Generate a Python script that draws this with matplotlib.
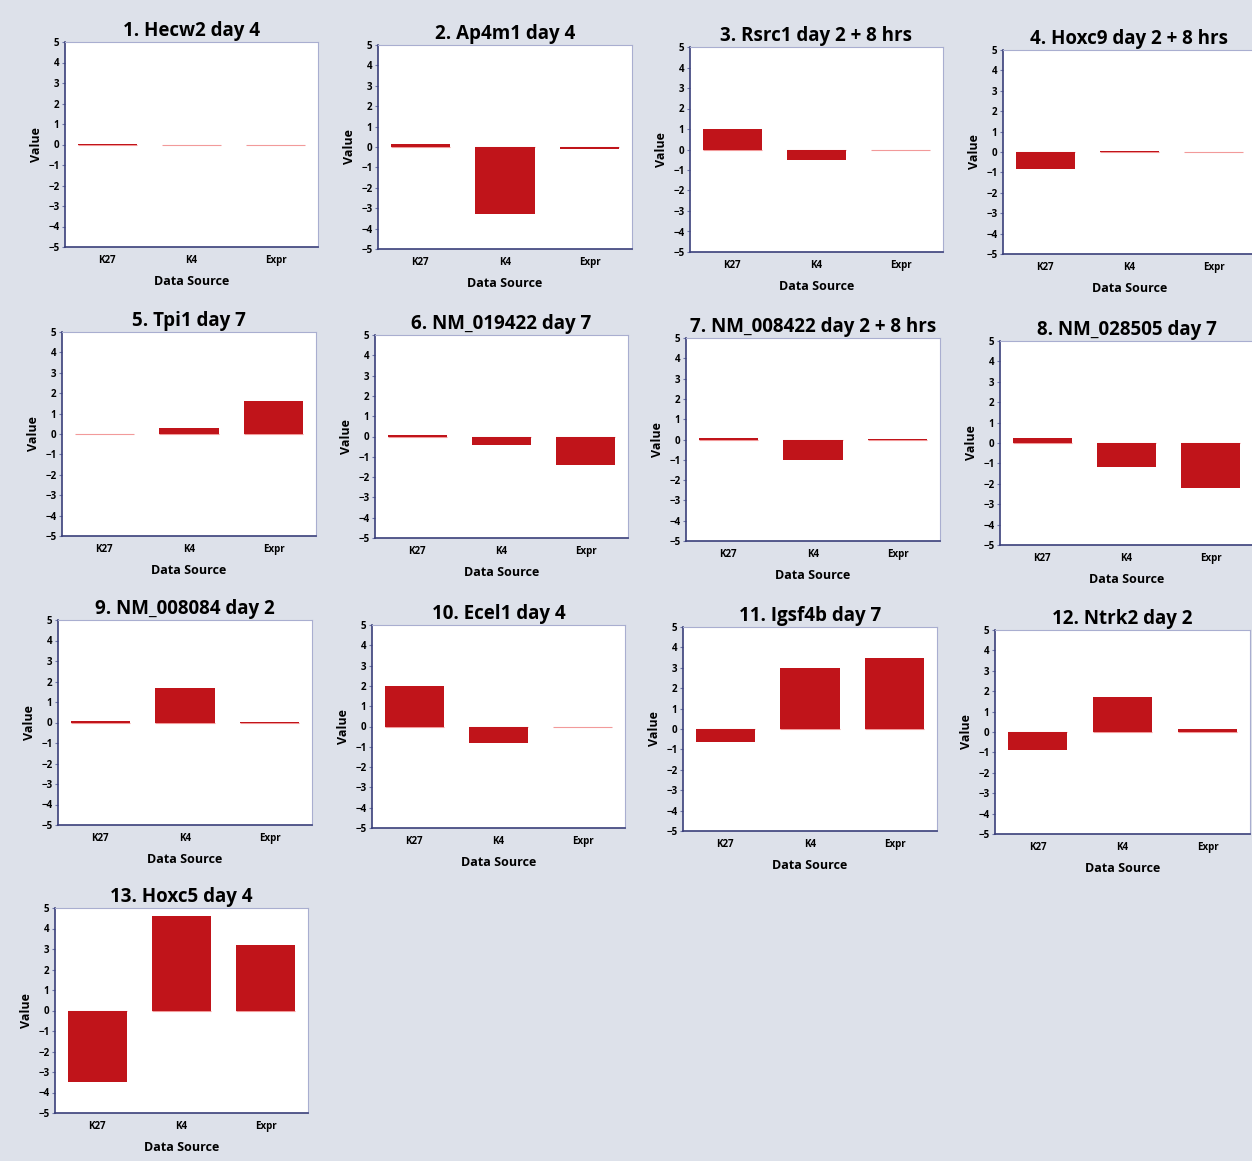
import matplotlib.pyplot as plt
import numpy as np

plt.rcParams['font.family'] = ['Open Sans', 'DejaVu Sans']

sources = ['K27', 'K4', 'Expr']
titles = ['1. Hecw2 day 4', '2. Ap4m1 day 4', '3. Rsrc1 day 2 + 8 hrs',
          '4. Hoxc9 day 2 + 8 hrs', '5. Tpi1 day 7', '6. NM_019422 day 7',
          '7. NM_008422 day 2 + 8 hrs', '8. NM_028505 day 7',
          '9. NM_008084 day 2', '10. Ecel1 day 4', '11. Igsf4b day 7',
          '12. Ntrk2 day 2', '13. Hoxc5 day 4']
k27 = [0.02, 0.15, 1.0, -0.85, 0.02, 0.05, 0.05, 0.25, 0.05, 2.0, -0.65, -0.9, -3.5]
k4 = [0.0, -3.3, -0.5, 0.05, 0.3, -0.4, -1.0, -1.2, 1.7, -0.8, 3.0, 1.7, 4.6]
expr = [-0.03, -0.1, 0.0, 0.02, 1.6, -1.4, 0.02, -2.2, 0.02, 0.0, 3.5, 0.15, 3.2]

# axes boxes in pixels: left, top, right, bottom
boxes = [(65, 42, 318, 247), (378, 45, 632, 249), (690, 47, 943, 252), (1003, 50, 1256, 254),
         (62, 332, 316, 536), (375, 335, 628, 538), (686, 338, 940, 541), (1000, 341, 1253, 545),
         (58, 620, 312, 825), (372, 625, 625, 828), (683, 627, 937, 831), (995, 630, 1250, 834),
         (55, 908, 308, 1113)]

W, H = 1252, 1161
fig = plt.figure(figsize=(W / 100, H / 100), dpi=100)
fig.patch.set_facecolor('#dde1ea')

bar_color = '#c0141a'
edge = '#6f76a8'
x = np.arange(3)

for i, title in enumerate(titles):
    l, t, r, b = boxes[i]
    ax = fig.add_axes([l / W, 1 - b / H, (r - l) / W, (b - t) / H])
    vals = [k27[i], k4[i], expr[i]]
    ax.bar(x, vals, width=0.7, color=bar_color, linewidth=0)
    # hairline for near-zero values
    ax.hlines([0, 0, 0], x - 0.35, x + 0.35, color='#f29a9a', lw=0.8, zorder=0)
    ax.set_xlim(-0.5, 2.5)
    ax.set_ylim(-5, 5)
    ax.set_yticks(range(-5, 6))
    ax.set_xticks(x)
    ax.set_xticklabels(sources, fontsize=7, fontweight='bold')
    ax.tick_params(axis='y', labelsize=7, length=2, pad=2, color=edge)
    ax.tick_params(axis='x', length=0, pad=6)
    for lbl in ax.get_yticklabels():
        lbl.set_fontweight('bold')
    ax.set_ylabel('Value', fontsize=9, fontweight='bold', labelpad=4)
    ax.set_xlabel('Data Source', fontsize=9, fontweight='bold', labelpad=6)
    ax.set_title(title, fontsize=13.5, fontweight='bold', pad=4)
    for side in ['left', 'bottom']:
        ax.spines[side].set_color('#3a3f7a')
        ax.spines[side].set_linewidth(1.2)
    for side in ['top', 'right']:
        ax.spines[side].set_color('#a9aed0')
        ax.spines[side].set_linewidth(0.8)

fig.savefig('out.png', dpi=100, facecolor=fig.get_facecolor())
